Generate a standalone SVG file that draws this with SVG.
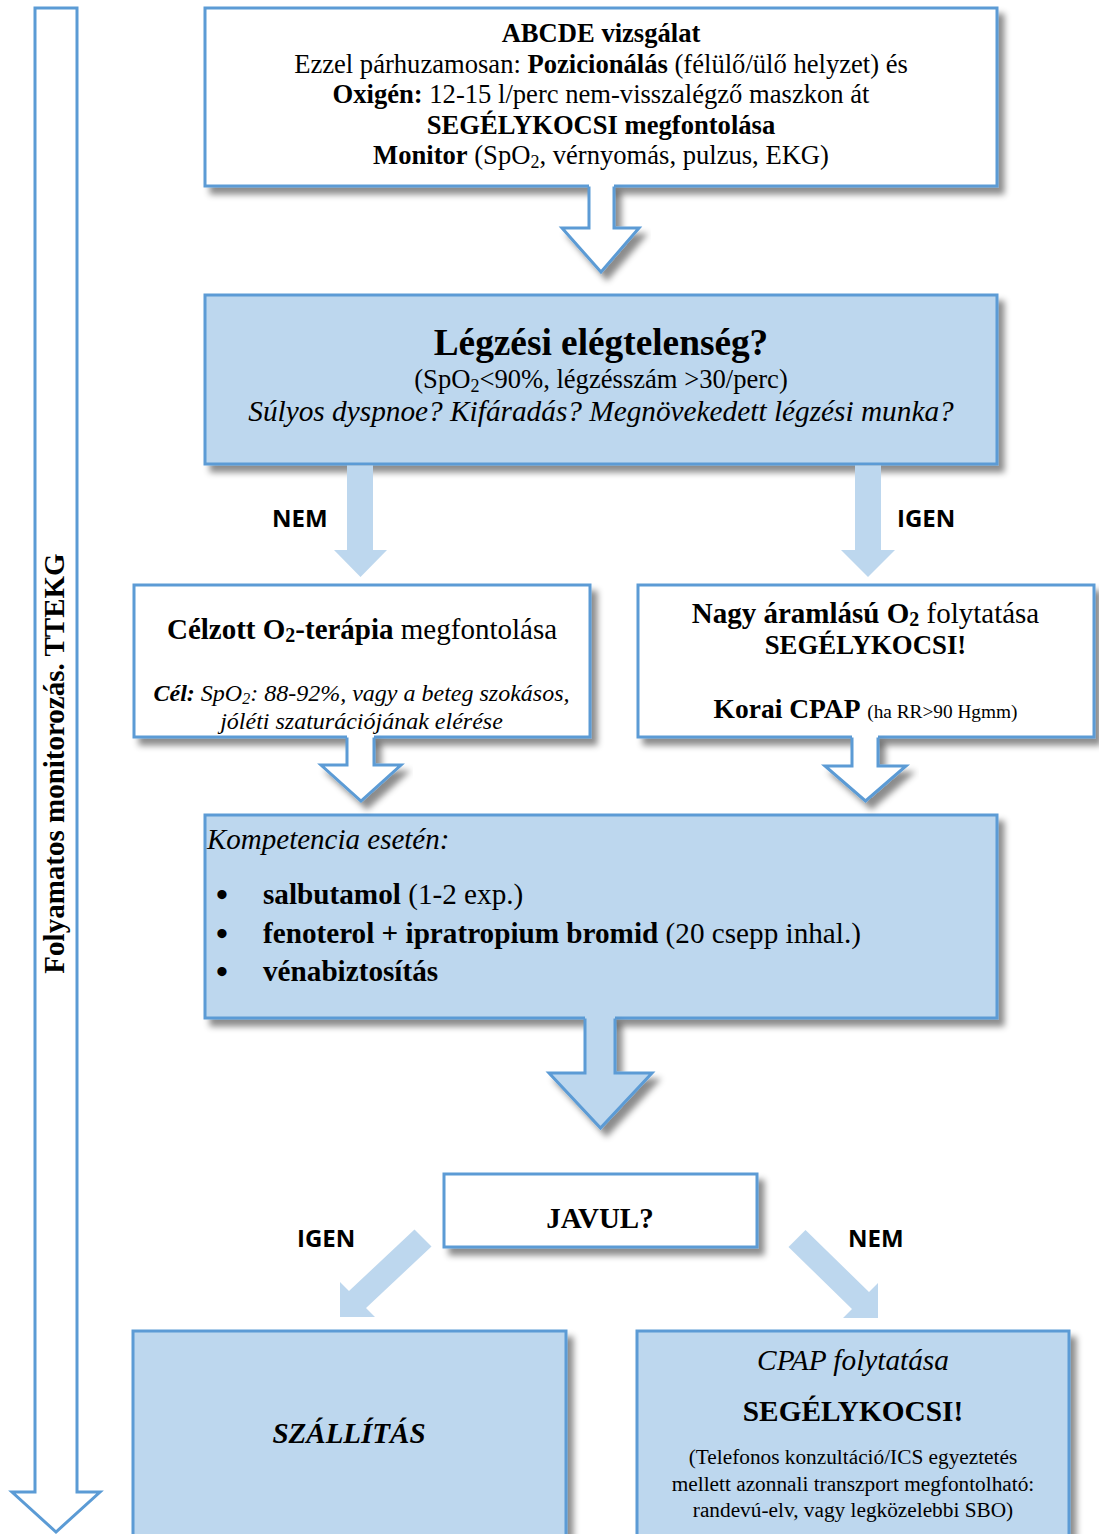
<svg xmlns="http://www.w3.org/2000/svg" width="1099" height="1534" viewBox="0 0 1099 1534">
<defs>
<style>
.box{stroke:#5B9BD5;stroke-width:3}
.w{fill:#FFFFFF}
.b{fill:#BDD7EE}
.ln{fill:none;stroke:#5B9BD5;stroke-width:3;stroke-linejoin:miter}
.sa{fill:#BDD7EE;stroke:none}
text{font-family:"Liberation Serif","Times New Roman",serif;fill:#000}
.c{text-anchor:middle}
.bd{font-weight:bold}
.it{font-style:italic}
.lbl{font-family:"Open Sans","Liberation Sans",Arial,sans-serif;font-weight:bold;font-size:24px}
</style>
<filter id="sh" x="-10%" y="-10%" width="125%" height="140%">
<feDropShadow dx="6" dy="7" stdDeviation="3" flood-color="#000" flood-opacity="0.45"/>
</filter>
</defs>
<rect x="0" y="0" width="1099" height="1534" fill="#FFFFFF"/>

<g id="monitoring">
<path class="ln w" d="M35,8 L77,8 L77,1492 L100,1492 L56,1532 L12,1492 L35,1492 Z"/>
<text class="c bd" font-size="29" transform="translate(64,763.5) rotate(-90)">Folyamatos monitorozás. TTEKG</text>
</g>

<g id="node-abcde">
<rect class="box w" x="205" y="8" width="792" height="178" filter="url(#sh)"/>
<text class="c" font-size="26.6" x="601" y="42"><tspan class="bd">ABCDE vizsgálat</tspan></text>
<text class="c" font-size="26.6" x="601" y="72.5">Ezzel párhuzamosan: <tspan class="bd">Pozicionálás</tspan> (félülő/ülő helyzet) és</text>
<text class="c" font-size="26.6" x="601" y="103"><tspan class="bd">Oxigén:</tspan> 12-15 l/perc nem-visszalégző maszkon át</text>
<text class="c bd" font-size="26.6" x="601" y="133.5">SEGÉLYKOCSI megfontolása</text>
<text class="c" font-size="26.6" x="601" y="164"><tspan class="bd">Monitor</tspan> (SpO<tspan font-size="18" dy="4">2</tspan><tspan dy="-4">, vérnyomás, pulzus, EKG)</tspan></text>
</g>

<g id="node-legzesi">
<rect class="box b" x="205" y="295" width="792" height="169" filter="url(#sh)"/>
<text class="c bd" font-size="37.3" x="601" y="355">Légzési elégtelenség?</text>
<text class="c" font-size="26.6" x="601" y="388">(SpO<tspan font-size="18" dy="4">2</tspan><tspan dy="-4">&lt;90%, légzésszám &gt;30/perc)</tspan></text>
<text class="c it" font-size="29.3" x="601" y="421">Súlyos dyspnoe? Kifáradás? Megnövekedett légzési munka?</text>
</g>

<g id="node-celzott">
<rect class="box w" x="134" y="585" width="456" height="152" filter="url(#sh)"/>
<text class="c" font-size="29" x="362" y="639"><tspan class="bd">Célzott O<tspan font-size="20" dy="3">2</tspan><tspan dy="-3">-terápia</tspan></tspan> megfontolása</text>
<text class="c it" font-size="24" x="361.5" y="701"><tspan class="bd">Cél:</tspan> SpO<tspan font-size="16" dy="3">2</tspan><tspan dy="-3">: 88-92%, vagy a beteg szokásos,</tspan></text>
<text class="c it" font-size="24" x="361.5" y="729">jóléti szaturációjának elérése</text>
</g>

<g id="node-nagy">
<rect class="box w" x="638" y="585" width="456" height="152" filter="url(#sh)"/>
<text class="c" font-size="29" x="865.5" y="623"><tspan class="bd">Nagy áramlású O<tspan font-size="20" dy="3">2</tspan></tspan><tspan dy="-3"> folytatása</tspan></text>
<text class="c bd" font-size="26.8" x="865.5" y="654">SEGÉLYKOCSI!</text>
<text class="c" font-size="27.5" x="865.5" y="718"><tspan class="bd">Korai CPAP</tspan> <tspan font-size="19.3">(ha RR&gt;90 Hgmm)</tspan></text>
</g>

<g id="node-kompetencia">
<rect class="box b" x="205" y="815" width="792" height="203" filter="url(#sh)"/>
<text class="it" font-size="29" x="207" y="849">Kompetencia esetén:</text>
<text class="c bd" font-size="34" x="222" y="906">•</text>
<text class="c bd" font-size="34" x="222" y="945">•</text>
<text class="c bd" font-size="34" x="222" y="983">•</text>
<text font-size="29.2" x="263" y="904"><tspan class="bd">salbutamol</tspan> (1-2 exp.)</text>
<text font-size="29.2" x="263" y="943"><tspan class="bd">fenoterol + ipratropium bromid</tspan> (20 csepp inhal.)</text>
<text class="bd" font-size="29.2" x="263" y="981">vénabiztosítás</text>
</g>

<g id="node-javul">
<rect class="box w" x="444" y="1174" width="313" height="73" filter="url(#sh)"/>
<text class="c bd" font-size="29" x="600" y="1228">JAVUL?</text>
</g>

<g id="node-szallitas">
<rect class="box b" x="133" y="1331" width="433" height="220" filter="url(#sh)"/>
<text class="c bd it" font-size="29" x="349" y="1443">SZÁLLÍTÁS</text>
</g>

<g id="node-cpap">
<rect class="box b" x="637" y="1331" width="432" height="220" filter="url(#sh)"/>
<text class="c it" font-size="29.3" x="853" y="1370">CPAP folytatása</text>
<text class="c bd" font-size="29.3" x="853" y="1421">SEGÉLYKOCSI!</text>
<text class="c" font-size="21.3" x="853" y="1464">(Telefonos konzultáció/ICS egyeztetés</text>
<text class="c" font-size="21.3" x="853" y="1491">mellett azonnali transzport megfontolható:</text>
<text class="c" font-size="21.3" x="853" y="1517">randevú-elv, vagy legközelebbi SBO)</text>
</g>

<g id="connectors">
<g id="arrow-abcde-legzesi" filter="url(#sh)">
<polygon class="w" points="589,184 589,228 562,228 601,272 639,228 614,228 614,184"/>
<polyline class="ln" points="589,186.5 589,228 562,228 601,272 639,228 614,228 614,186.5"/>
</g>
<polygon id="arrow-nem" class="sa" points="347,465.5 373,465.5 373,550 387,550 360.5,577 334,550 347,550"/>
<polygon id="arrow-igen" class="sa" points="855,465.5 881,465.5 881,550 895,550 868,577 841,550 855,550"/>
<text class="lbl" x="272" y="527">NEM</text>
<text class="lbl" x="897" y="527">IGEN</text>
<g id="arrow-celzott-komp" filter="url(#sh)">
<polygon class="w" points="347,735 347,765 321,765 361,801 401,765 374,765 374,735"/>
<polyline class="ln" points="347,737.5 347,765 321,765 361,801 401,765 374,765 374,737.5"/>
</g>
<g id="arrow-nagy-komp" filter="url(#sh)">
<polygon class="w" points="852,735 852,766 825,766 865.5,801 906,766 878,766 878,735"/>
<polyline class="ln" points="852,737.5 852,766 825,766 865.5,801 906,766 878,766 878,737.5"/>
</g>
<g id="arrow-komp-javul" filter="url(#sh)">
<polygon class="b" points="585,1016 585,1073 549,1073 600.5,1128 652,1073 615,1073 615,1016"/>
<polyline class="ln" points="585,1018.5 585,1073 549,1073 600.5,1128 652,1073 615,1073 615,1018.5"/>
</g>
<polygon id="arrow-javul-igen" class="sa" points="414.5,1229.5 431.5,1246.5 366,1308 375,1317 340,1317 340,1282 349,1291"/>
<polygon id="arrow-javul-nem" class="sa" points="805.5,1230 869,1292 878,1283 878,1318 843,1318 852,1309 788.5,1247"/>
<text class="lbl" x="297" y="1247">IGEN</text>
<text class="lbl" x="848" y="1247">NEM</text>
</g>
</svg>
